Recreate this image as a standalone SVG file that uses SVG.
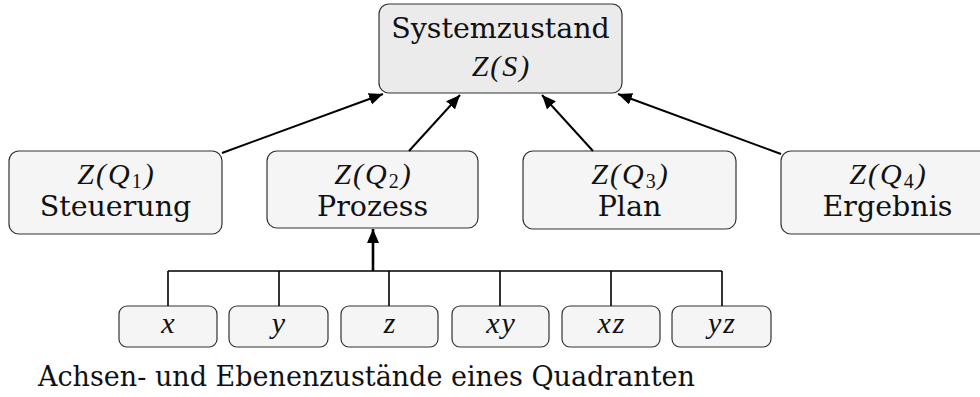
<svg xmlns="http://www.w3.org/2000/svg" width="980" height="397" viewBox="0 0 980 397">
<style>
.box{fill:#f5f5f5;stroke:#333;stroke-width:1.2}
.top{fill:#ebebeb;stroke:#333;stroke-width:1.2}
.t{font-family:"DejaVu Serif",serif;font-size:28.5px;fill:#111;text-anchor:middle}
.m{font-family:"Liberation Serif",serif;font-style:italic;font-size:30px;letter-spacing:2px;fill:#111;text-anchor:middle}
.r{font-style:normal}
.c{stroke:#000;stroke-width:2;fill:none}
.bus{stroke:#000;stroke-width:1.6;fill:none}
</style>
<defs>
<marker id="ah" markerUnits="userSpaceOnUse" markerWidth="16" markerHeight="14" refX="14" refY="6" orient="auto">
<path d="M0,0 L14,6 L0,12 Z" fill="#000"/>
</marker>
</defs>
<g id="systemzustand">
<rect class="top" x="379" y="4" width="243" height="89" rx="10"/>
<text class="t" x="500.5" y="38">Systemzustand</text>
<text class="m" x="501.5" y="76">Z(S)</text>
</g>
<g id="q1">
<rect class="box" x="9" y="151" width="213" height="83" rx="10"/>
<text class="m" x="116.5" y="184">Z(Q<tspan class="r" font-size="20" dy="4">1</tspan><tspan dy="-4">)</tspan></text>
<text class="t" x="115.5" y="216">Steuerung</text>
</g>
<g id="q2">
<rect class="box" x="267" y="151" width="211" height="77" rx="10"/>
<text class="m" x="373.5" y="184">Z(Q<tspan class="r" font-size="20" dy="4">2</tspan><tspan dy="-4">)</tspan></text>
<text class="t" x="372.5" y="216">Prozess</text>
</g>
<g id="q3">
<rect class="box" x="523" y="151" width="213" height="78" rx="10"/>
<text class="m" x="630.5" y="184">Z(Q<tspan class="r" font-size="20" dy="4">3</tspan><tspan dy="-4">)</tspan></text>
<text class="t" x="629.5" y="216">Plan</text>
</g>
<g id="q4">
<rect class="box" x="781" y="151" width="213" height="83" rx="10"/>
<text class="m" x="888.5" y="184">Z(Q<tspan class="r" font-size="20" dy="4">4</tspan><tspan dy="-4">)</tspan></text>
<text class="t" x="887.5" y="216">Ergebnis</text>
</g>
<g id="x"><rect class="box" x="119" y="306" width="98" height="41" rx="8"/><text class="m" x="169" y="333">x</text></g>
<g id="y"><rect class="box" x="229" y="306" width="99" height="41" rx="8"/><text class="m" x="279.5" y="333">y</text></g>
<g id="z"><rect class="box" x="341" y="306" width="97" height="41" rx="8"/><text class="m" x="390.5" y="333">z</text></g>
<g id="xy"><rect class="box" x="452" y="306" width="97" height="41" rx="8"/><text class="m" x="501.5" y="333" letter-spacing="4">xy</text></g>
<g id="xz"><rect class="box" x="562" y="306" width="98" height="41" rx="8"/><text class="m" x="612" y="333" letter-spacing="4">xz</text></g>
<g id="yz"><rect class="box" x="672" y="306" width="99" height="41" rx="8"/><text class="m" x="722.5" y="333" letter-spacing="4">yz</text></g>
<g id="connectors">
<line class="c" x1="222" y1="153" x2="383" y2="94" marker-end="url(#ah)"/>
<line class="c" x1="409" y1="151" x2="460" y2="95" marker-end="url(#ah)"/>
<line class="c" x1="593" y1="151" x2="542" y2="95" marker-end="url(#ah)"/>
<line class="c" x1="781" y1="154" x2="618" y2="94" marker-end="url(#ah)"/>
<path class="bus" d="M168,271 H722 M168,271 V306 M279,271 V306 M389,271 V306 M500,271 V306 M611,271 V306 M722,271 V306"/>
<line x1="373" y1="271" x2="373" y2="229" stroke="#000" stroke-width="2.6" marker-end="url(#ah)"/>
</g>
<text x="38" y="386" font-family="DejaVu Serif, serif" font-size="27" fill="#111">Achsen- und Ebenenzustände eines Quadranten</text>
</svg>
